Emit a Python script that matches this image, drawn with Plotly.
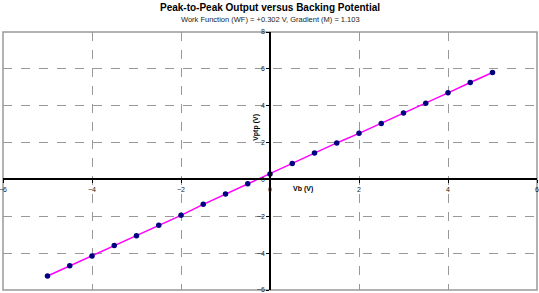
import plotly.graph_objects as go

vb = [-5.0, -4.5, -4.0, -3.5, -3.0, -2.5, -2.0, -1.5, -1.0, -0.5, 0.0,
      0.5, 1.0, 1.5, 2.0, 2.5, 3.0, 3.5, 4.0, 4.5, 5.0]
vptp = [-5.24, -4.69, -4.15, -3.59, -3.05, -2.49, -1.95, -1.35, -0.79, -0.24, 0.30,
        0.86, 1.44, 1.98, 2.50, 3.04, 3.60, 4.14, 4.70, 5.26, 5.80]

x_ticks = [-6, -4, -2, 0, 2, 4, 6]
y_ticks = [-6, -4, -2, 0, 2, 4, 6, 8]

title = "Peak-to-Peak Output versus Backing Potential"
subtitle = "Work Function (WF) = +0.302 V, Gradient (M) = 1.103"

FONT = "Liberation Sans, Arial, sans-serif"

fig = go.Figure()
fig.add_trace(go.Scatter(x=vb, y=vptp, mode="lines",
                         line=dict(color="#FF00FF", width=1.5), hoverinfo="skip"))
fig.add_trace(go.Scatter(x=vb, y=vptp, mode="markers",
                         marker=dict(color="#000080", size=5.5)))

xmin, xmax, ymin, ymax = -6, 6, -6, 8
common = dict(showline=True, linecolor="black", linewidth=1.5,
              ticks="outside", ticklen=3, tickcolor="black",
              showgrid=True, gridcolor="#999999", griddash="dash", gridwidth=1,
              zeroline=False, tickfont=dict(size=7, color="#222222"),
              anchor="free", automargin=False, ticklabeloverflow="allow")
fig.update_layout(
    width=539, height=293,
    margin=dict(l=3, r=2, t=32, b=3, autoexpand=False),
    paper_bgcolor="white", plot_bgcolor="white",
    showlegend=False,
    font=dict(family=FONT, size=7, color="#000000"),
    xaxis=dict(range=[xmin, xmax], tickvals=x_ticks,
               position=(0 - ymin) / (ymax - ymin), **common),
    yaxis=dict(range=[ymin, ymax], tickvals=y_ticks,
               position=(0 - xmin) / (xmax - xmin), **common),
    shapes=[dict(type="rect", xref="paper", yref="paper", x0=0, y0=0, x1=1, y1=1,
                 line=dict(color="#999999", width=1.5), layer="below")],
    annotations=[
        dict(text="<b>" + title + "</b>", xref="paper", yref="paper", x=0.5, y=1,
             yanchor="middle", yshift=25, showarrow=False,
             font=dict(size=10, family=FONT)),
        dict(text=subtitle, xref="paper", yref="paper", x=0.5, y=1,
             yanchor="middle", yshift=13, showarrow=False,
             font=dict(size=7.5, family=FONT, color="#222222")),
        dict(text="<b>Vb (V)</b>", x=0.5, y=0, xref="x", yref="y",
             xanchor="left", yanchor="top", xshift=-1, yshift=-4,
             showarrow=False, font=dict(size=7, family=FONT)),
        dict(text="<b>Vptp (V)</b>", x=0, y=2.8, xref="x", yref="y",
             textangle=-90, xanchor="right", xshift=-8,
             showarrow=False, font=dict(size=7, family=FONT)),
    ],
)

fig.write_html("out.html", config={"displayModeBar": False},
               post_script="document.body.style.margin='0';document.body.style.padding='0';")
